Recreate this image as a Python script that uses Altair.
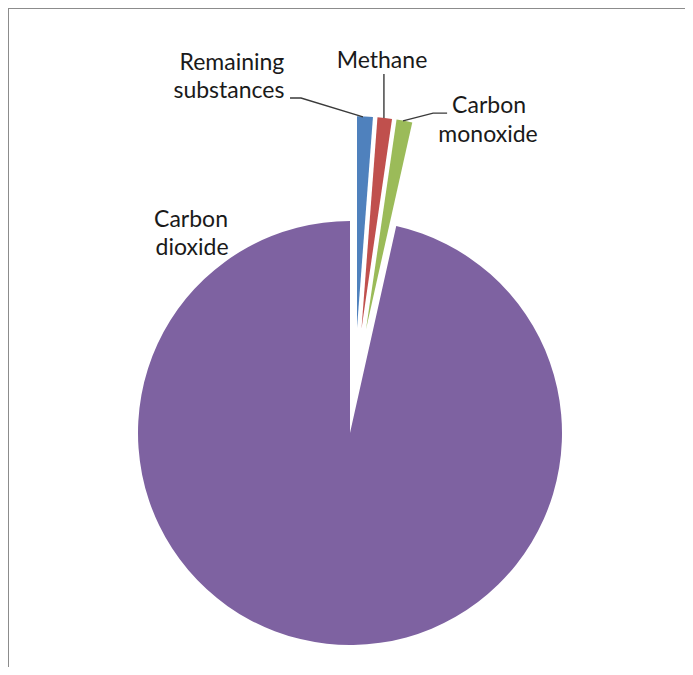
import math
import altair as alt
import pandas as pd

# ---- data ----
labels = ["Remaining substances", "Methane", "Carbon monoxide", "Carbon dioxide"]
values = [1.2, 1.1, 1.2, 96.5]
exploded = [1, 1, 1, 0]
colors = ["#4F81BD", "#C0504D", "#9BBB59", "#7E62A1"]

# label text lines (one row per line) and anchor positions in pie-radius units
label_lines = ["Remaining", "substances", "Methane", "Carbon", "monoxide", "Carbon", "dioxide"]
label_u = [-0.557, -0.571, 0.151, 0.656, 0.651, -0.750, -0.745]
label_v = [1.712, 1.580, 1.722, 1.509, 1.373, 0.972, 0.840]

# leader lines (pie-radius units)
leader_id = ["rs", "rs", "rs", "me", "me", "co", "co", "co"]
leader_u = [-0.283, -0.231, 0.061, 0.160, 0.160, 0.458, 0.392, 0.250]
leader_v = [1.580, 1.580, 1.491, 1.693, 1.486, 1.509, 1.509, 1.472]

# ---- layout ----
W, H = 677, 659
CX, CY, R = 342, 425, 212
EXPLODE = 0.495
SPREAD = 0.6

xs = alt.Scale(domain=[-CX / R, (W - CX) / R], range=[0, W], nice=False, zero=False)
ys = alt.Scale(domain=[(CY - H) / R, CY / R], range=[H, 0], nice=False, zero=False)

df = pd.DataFrame({"label": labels, "value": values, "explode": exploded,
                   "order": list(range(len(labels)))})

pie = (
    alt.Chart(df)
    .transform_window(cum="sum(value)", sort=[alt.SortField("order")], frame=[None, 0])
    .transform_joinaggregate(total="sum(value)")
    .transform_calculate(ev="datum.explode ? datum.value : 0")
    .transform_joinaggregate(etotal="sum(ev)")
    .transform_calculate(
        f0="(datum.cum - datum.value) / datum.total",
        f1="datum.cum / datum.total",
    )
    .transform_calculate(
        gm="datum.etotal / datum.total / 2",
    )
    .transform_calculate(
        dir=f"2 * PI * (datum.gm + {SPREAD} * ((datum.f0 + datum.f1) / 2 - datum.gm))",
        dist=f"datum.explode ? {EXPLODE} : 0",
    )
    .transform_calculate(
        cx="datum.dist * sin(datum.dir)",
        cy="datum.dist * cos(datum.dir)",
    )
    .mark_arc(outerRadius=R)
    .encode(
        theta=alt.Theta("f0:Q", scale=alt.Scale(domain=[0, 1], range=[0, 2 * math.pi])),
        theta2="f1:Q",
        x=alt.X("cx:Q", scale=xs, axis=None),
        y=alt.Y("cy:Q", scale=ys, axis=None),
        color=alt.Color("label:N", scale=alt.Scale(domain=labels, range=colors), legend=None),
    )
)

tdf = pd.DataFrame({"text": label_lines, "u": label_u, "v": label_v})
texts = alt.Chart(tdf).mark_text(
    font="Lato", fontSize=23, color="#1a1a1a", align="center", baseline="alphabetic"
).encode(
    x=alt.X("u:Q", scale=xs, axis=None),
    y=alt.Y("v:Q", scale=ys, axis=None),
    text="text:N",
)

ldf = pd.DataFrame({"id": leader_id, "u": leader_u, "v": leader_v,
                    "k": list(range(len(leader_id)))})
leaders = alt.Chart(ldf).mark_line(color="#3a3a3a", strokeWidth=1.4).encode(
    x=alt.X("u:Q", scale=xs, axis=None),
    y=alt.Y("v:Q", scale=ys, axis=None),
    detail="id:N",
    order="k:Q",
)

frame_df = pd.DataFrame({"a": [0]})
frame_top = alt.Chart(frame_df).mark_rule(color="#8c8c8c", strokeWidth=2).encode(
    x=alt.value(0), x2=alt.value(W + 20), y=alt.value(0)
)
frame_left = alt.Chart(frame_df).mark_rule(color="#8c8c8c", strokeWidth=2).encode(
    x=alt.value(0), y=alt.value(0), y2=alt.value(H + 20)
)

chart = (
    alt.layer(pie, leaders, texts, frame_top, frame_left)
    .properties(width=W, height=H, padding=0, autosize="none", background="white")
    .configure_view(stroke=None)
)

chart.save("out.html", embed_options={"renderer": "svg", "actions": False})
